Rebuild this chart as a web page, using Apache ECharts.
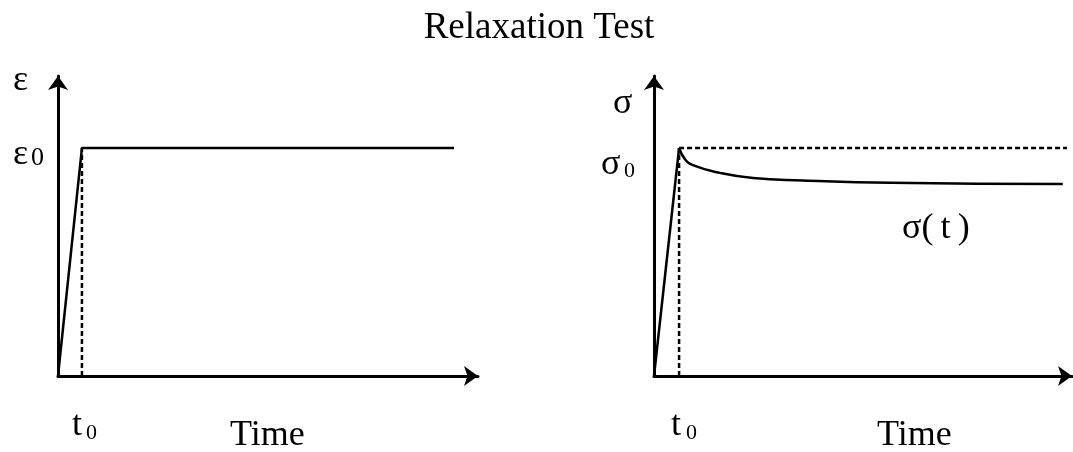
<!DOCTYPE html>
<html>
<head>
<meta charset="utf-8">
<script src="https://cdn.jsdelivr.net/npm/echarts@6/dist/echarts.min.js"></script>
<style>
  html, body { margin: 0; padding: 0; background: #fff; }
  #main { width: 1073px; height: 452px; }
</style>
</head>
<body>
<div id="main"></div>
<script>
// values, both panels on a 0..100 scale
const t0Left = 5.7
const eps0 = 76
const strainEnd = 94.3

const t0Right = 6.0
const sig0 = 76
const dashEnd = 98.8
// sigma(t) relaxation curve
const relaxT = [6.0, 7.4, 9.3, 15.8, 23.7, 35.6, 56.5, 97.8]
const relaxS = [76, 72.3, 70.3, 67.7, 66.0, 65.2, 64.4, 64.0]

const FONT = '"Liberation Serif", "Times New Roman", serif'
const INK = '#000'

let myChart = echarts.init(document.getElementById('main'), null, { renderer: 'canvas' })

// plain axis with an arrow at the far end
function axis (gridIndex) {
  return {
    type: 'value',
    gridIndex: gridIndex,
    min: 0,
    max: 100,
    axisLine: {
      show: true,
      symbol: ['none', 'arrow'],
      symbolSize: [15, 14],
      lineStyle: { color: INK, width: 3 }
    },
    axisTick: { show: false },
    axisLabel: { show: false },
    splitLine: { show: false }
  }
}

function line (gi, data, dashed, smooth) {
  return {
    type: 'line',
    xAxisIndex: gi,
    yAxisIndex: gi,
    data: data,
    symbol: 'none',
    smooth: smooth || false,
    silent: true,
    lineStyle: { color: INK, width: 2.5, type: dashed ? [5, 3] : 'solid' }
  }
}

// text placed by its baseline
function txt (s, x, baseline, size, align) {
  return {
    type: 'text',
    x: x,
    y: baseline - 0.27 * size,
    silent: true,
    style: {
      text: s,
      fill: INK,
      font: size + 'px ' + FONT,
      align: align || 'left',
      verticalAlign: 'middle'
    }
  }
}

const curve = relaxT.map((t, i) => [t, relaxS[i]])

myChart.setOption({
  animation: false,
  backgroundColor: '#fff',
  grid: [
    { left: 58, top: 76, width: 420, height: 300 },
    { left: 654, top: 76, width: 418, height: 300 }
  ],
  xAxis: [axis(0), axis(1)],
  yAxis: [axis(0), axis(1)],
  series: [
    line(0, [[0, 0], [t0Left, eps0], [strainEnd, eps0]]),
    line(0, [[t0Left, 0], [t0Left, eps0]], true),
    line(1, [[0, 0], [t0Right, sig0]]),
    line(1, curve, false, 0.5),
    line(1, [[t0Right, 0], [t0Right, sig0]], true),
    line(1, [[t0Right, sig0], [dashEnd, sig0]], true)
  ],
  graphic: [
    txt('Relaxation Test', 539, 38, 37, 'center'),
    txt('ε', 13, 90, 36),
    txt('ε', 13, 164, 36),
    txt('0', 31, 165, 26),
    txt('t', 72, 435, 36),
    txt('0', 86, 439, 22),
    txt('Time', 230, 445, 36),
    txt('σ', 613, 113, 36),
    txt('σ', 601, 174, 36),
    txt('0', 624, 177, 22),
    txt('t', 671, 435, 36),
    txt('0', 686, 439, 22),
    txt('Time', 877, 445, 36),
    txt('σ(\u2009t\u2009)', 902, 238, 36)
  ]
})
myChart.resize()
</script>
</body>
</html>
